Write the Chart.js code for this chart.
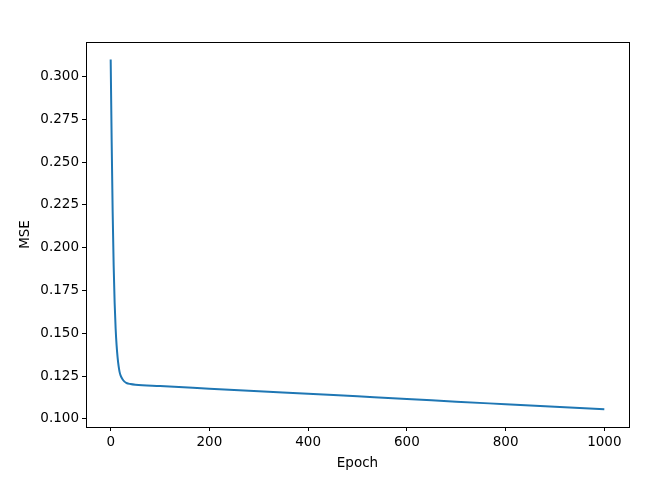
<!DOCTYPE html>
<html>
<head>
<meta charset="utf-8">
<script src="https://cdn.jsdelivr.net/npm/chart.js@4/dist/chart.umd.min.js"></script>
<style>
  body { margin: 0; background: #fff; }
</style>
</head>
<body>
<canvas id="lossChart" width="648" height="488"></canvas>
<script>
// values
const epochs = [0, 2, 4, 6, 8, 10, 12, 14, 16, 18, 20, 24, 28, 32, 40, 50, 100, 200, 300, 400, 500, 600, 700, 800, 900, 1000];
const mse = [0.310, 0.262, 0.221, 0.190, 0.168, 0.153, 0.143, 0.136, 0.131, 0.1275, 0.1255, 0.1232, 0.1218, 0.1210, 0.1204, 0.1200, 0.1192, 0.1177, 0.1162, 0.1147, 0.1132, 0.1117, 0.1101, 0.1086, 0.1071, 0.1056];
const xTicks = [0, 200, 400, 600, 800, 1000];
const yTicks = [0.100, 0.125, 0.150, 0.175, 0.200, 0.225, 0.250, 0.275, 0.300];

const points = epochs.map((e, i) => ({ x: e, y: mse[i] }));

const font = { family: "DejaVu Sans", size: 13.5 };
Chart.defaults.color = "#000";

// matplotlib style box around the axes
const frame = {
  id: "frame",
  afterDraw(chart) {
    const a = chart.chartArea, c = chart.ctx;
    c.save();
    c.strokeStyle = "#000";
    c.lineWidth = 1;
    c.strokeRect(Math.round(a.left) + 0.5, Math.round(a.top) + 0.5, Math.round(a.right - a.left), Math.round(a.bottom - a.top));
    c.restore();
  }
};

new Chart(document.getElementById("lossChart"), {
  type: "line",
  data: {
    datasets: [{
      data: points,
      borderColor: "#1f77b4",
      borderWidth: 2,
      pointRadius: 0,
      cubicInterpolationMode: "monotone",
      fill: false
    }]
  },
  options: {
    responsive: false,
    animation: false,
    layout: { padding: { left: 0, right: 19, top: 42, bottom: 0 } },
    plugins: { legend: { display: false }, tooltip: { enabled: false } },
    scales: {
      x: {
        type: "linear",
        min: -50,
        max: 1050,
        afterBuildTicks: s => { s.ticks = xTicks.map(v => ({ value: v })); },
        afterFit: s => { s.height = 61; },
        grid: { drawOnChartArea: false, drawTicks: true, tickLength: 4, color: "#000" },
        border: { display: true, color: "#000" },
        ticks: { font, padding: 3, maxRotation: 0, callback: v => String(v) },
        title: { display: true, text: "Epoch", font, padding: { top: 2, bottom: 16 } }
      },
      y: {
        type: "linear",
        min: 0.0953,
        max: 0.3202,
        afterBuildTicks: s => { s.ticks = yTicks.map(v => ({ value: v })); },
        afterFit: s => { s.width = 86; },
        grid: { drawOnChartArea: false, drawTicks: true, tickLength: 4, color: "#000" },
        border: { display: true, color: "#000" },
        ticks: { font, padding: 3, callback: v => v.toFixed(3) },
        title: { display: true, text: "MSE", font, padding: { top: 17, bottom: 2 } }
      }
    }
  },
  plugins: [frame]
});
</script>
</body>
</html>
